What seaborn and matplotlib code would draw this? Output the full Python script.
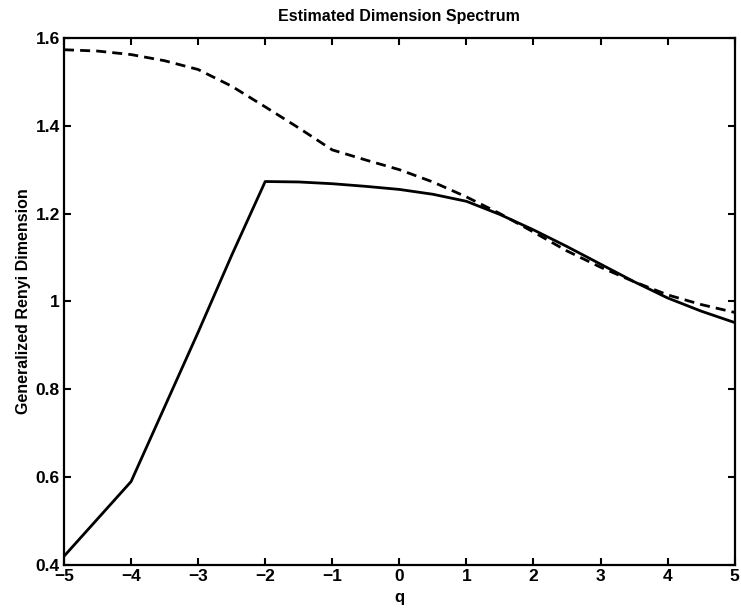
import numpy as np
import pandas as pd
import matplotlib
matplotlib.use("Agg")
import matplotlib.pyplot as plt
import seaborn as sns

# q values and the two estimated spectra
q = [-5, -4.5, -4, -3.5, -3, -2.5, -2, -1.5, -1, -0.5, 0,
     0.5, 1, 1.5, 2, 2.5, 3, 3.5, 4, 4.5, 5]
dim_solid = [0.42, 0.505, 0.59, 0.76, 0.93, 1.105, 1.273, 1.272, 1.268, 1.262, 1.255,
             1.244, 1.228, 1.198, 1.163, 1.125, 1.085, 1.045, 1.008, 0.978, 0.952]
dim_dashed = [1.573, 1.570, 1.562, 1.548, 1.528, 1.490, 1.443, 1.395, 1.345, 1.322, 1.300,
              1.272, 1.238, 1.200, 1.158, 1.115, 1.078, 1.045, 1.015, 0.993, 0.975]

xticks = [-5, -4, -3, -2, -1, 0, 1, 2, 3, 4, 5]
xtick_labels = ["\u22125", "\u22124", "\u22123", "\u22122", "\u22121",
                "0", "1", "2", "3", "4", "5"]
yticks = [0.4, 0.6, 0.8, 1.0, 1.2, 1.4, 1.6]
ytick_labels = ["0.4", "0.6", "0.8", "1", "1.2", "1.4", "1.6"]

sns.set_style("ticks", {"axes.edgecolor": "black", "text.color": "black",
                        "axes.labelcolor": "black", "xtick.color": "black",
                        "ytick.color": "black"})
plt.rcParams['font.family'] = ['Liberation Sans', 'DejaVu Sans']

df = pd.DataFrame({"q": q, "solid": dim_solid, "dashed": dim_dashed})

fig = plt.figure(figsize=(7.41, 6.08), dpi=100)
ax = fig.add_axes([0.0864, 0.0707, 0.905, 0.867])

sns.lineplot(data=df, x="q", y="dashed", ax=ax, color="black", linewidth=2.0)
ax.lines[-1].set_dashes([3.6, 2.2])
sns.lineplot(data=df, x="q", y="solid", ax=ax, color="black", linewidth=2.0)

ax.set_xlim(-5, 5)
ax.set_ylim(0.4, 1.6)
ax.set_xticks(xticks)
ax.set_xticklabels(xtick_labels)
ax.set_yticks(yticks)
ax.set_yticklabels(ytick_labels)

for s in ax.spines.values():
    s.set_visible(True)
    s.set_linewidth(1.6)
    s.set_color("black")
ax.tick_params(direction="in", top=True, right=True, length=5, width=1.5,
               labelsize=12.5, pad=3, colors="black")
for lab in ax.get_xticklabels() + ax.get_yticklabels():
    lab.set_fontweight("bold")

ax.set_xlabel("q", fontsize=12, fontweight="bold", labelpad=4, color="black")
ax.set_ylabel("Generalized Renyi Dimension", fontsize=11.5, fontweight="bold",
              labelpad=3, color="black")
ax.set_title("Estimated Dimension Spectrum", fontsize=11.5, fontweight="bold",
             pad=12, color="black")

fig.savefig("out.png", dpi=100)
